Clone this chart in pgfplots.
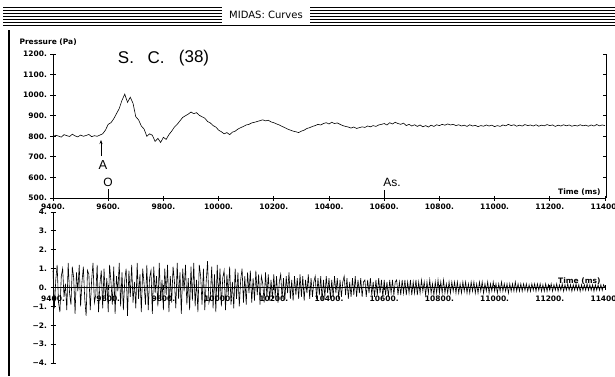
\documentclass[border=0pt]{standalone}
\usepackage{pgfplots}
\pgfplotsset{compat=1.18}
\usepackage{fontspec}
\usetikzlibrary{arrows.meta}
\setmainfont{DejaVu Sans}
\newfontfamily\pixfont{DejaVu Sans}
\newfontfamily\handfont{Liberation Sans}
\newcommand\tickfont{\pixfont\bfseries\fontsize{7.5}{8}\selectfont}
\begin{document}
\begin{tikzpicture}
\useasboundingbox (0pt,0pt) rectangle (615pt,376pt);
\begin{scope}[x=1pt,y=1pt]
% window title bar
\foreach \yy in {7,10,13,16,19,22} {
  \draw[line width=0.7pt] (3,376-\yy) -- (222,376-\yy);
  \draw[line width=0.7pt] (310,376-\yy) -- (615,376-\yy);
}
\draw[line width=0.8pt] (3,376-25) -- (615,376-25);
\node[font=\pixfont\fontsize{10}{12}\selectfont] at (266,376-15) {MIDAS: Curves};
\draw[line width=1.2pt] (9,376-30) -- (9,0);
\node[anchor=west,font=\tickfont] at (16,376-42) {Pressure (Pa)};
% right frame line with ticks
\draw[line width=1pt] (606.5,178) -- (606.5,322);
\foreach \k in {1,...,7} { \draw[line width=0.8pt] (606.5,178+\k*20.57) -- (602.5,178+\k*20.57); }
\node[anchor=east,font=\tickfont] at (604,376-192) {Time (ms)};
\node[anchor=east,font=\tickfont] at (604,376-281) {Time (ms)};
% annotations
\node[font=\handfont\fontsize{17}{18}\selectfont] at (126,376-58) {S.};
\node[font=\handfont\fontsize{17}{18}\selectfont] at (156,376-58) {C.};
\node[font=\handfont\fontsize{17}{18}\selectfont] at (194,376-58) {(38)};
\draw[-{Stealth[length=4pt]}, line width=0.8pt] (101,376-156) -- (101,376-140);
\node[font=\handfont\fontsize{13}{14}\selectfont] at (103,376-165) {A};
\node[font=\handfont\fontsize{12}{13}\selectfont] at (108,376-182) {O};
\draw[line width=0.8pt] (108,376-189) -- (108,376-198);
\node[font=\handfont\fontsize{12}{13}\selectfont] at (392,376-182) {As.};
\draw[line width=0.8pt] (384,376-190) -- (384,376-198);
\end{scope}

% ---------- top plot ----------
\begin{axis}[
  at={(53pt,178pt)}, anchor=south west,
  scale only axis, width=552pt, height=144pt,
  xmin=9400, xmax=11400, ymin=500, ymax=1200,
  axis x line=bottom, axis y line=left,
  x axis line style={-}, y axis line style={-},
  axis line style={line width=0.8pt},
  scaled x ticks=false, scaled y ticks=false,
  xtick={9400,9600,9800,10000,10200,10400,10600,10800,11000,11200,11400},
  xticklabels={9400.,9600.,9800.,10000.,10200.,10400.,10600.,10800.,11000.,11200.,11400.},
  ytick={500,600,700,800,900,1000,1100,1200},
  yticklabels={500.,600.,700.,800.,900.,1000.,1100.,1200.},
  tick align=center, major tick length=5pt,
  tick style={line width=0.8pt, black},
  ticklabel style={font=\tickfont},
  clip=false,
]
\addplot[black, line width=0.6pt] coordinates {
(9400,798) (9410,805) (9420,801) (9430,796) (9440,808) (9450,803) (9460,799) (9470,810) (9480,802) (9490,797)
(9500,806) (9510,800) (9520,804) (9530,809) (9540,798) (9550,803) (9560,800) (9570,806) (9580,812) (9590,830)
(9600,858) (9610,866) (9620,885) (9630,910) (9640,935) (9650,975) (9660,1005) (9670,965) (9680,990) (9690,960)
(9700,895) (9710,880) (9720,850) (9730,835) (9740,800) (9750,812) (9760,805) (9770,775) (9780,790) (9790,770)
(9800,795) (9810,785) (9820,808) (9830,825) (9840,845) (9850,858) (9860,875) (9870,892) (9880,900) (9890,908)
(9900,918) (9910,910) (9920,915) (9930,902) (9940,895) (9950,888) (9960,872) (9970,865) (9980,852) (9990,845)
(10000,830) (10010,822) (10020,812) (10030,818) (10040,808) (10050,820) (10060,825) (10070,835) (10080,842) (10090,848)
(10100,855) (10110,858) (10120,865) (10130,868) (10140,872) (10150,876) (10160,880) (10170,875) (10180,878) (10190,870)
(10200,866) (10210,860) (10220,855) (10230,848) (10240,842) (10250,835) (10260,830) (10270,825) (10280,822) (10290,818)
(10300,825) (10310,830) (10320,838) (10330,842) (10340,848) (10350,852) (10360,858) (10370,855) (10380,862) (10390,866)
(10400,860) (10410,868) (10420,862) (10430,865) (10440,858) (10450,852) (10460,848) (10470,845) (10480,840) (10490,845)
(10500,838) (10510,842) (10520,846) (10530,843) (10540,850) (10550,846) (10560,852) (10570,848) (10580,855) (10590,858)
(10600,862) (10610,855) (10620,866) (10630,860) (10640,868) (10650,862) (10660,858) (10670,864) (10680,852) (10690,858)
(10700,850) (10710,856) (10720,848) (10730,855) (10740,846) (10750,852) (10760,845) (10770,854) (10780,848) (10790,856)
(10800,852) (10810,858) (10820,854) (10830,860) (10840,855) (10850,858) (10860,852) (10870,856) (10880,850) (10890,854)
(10900,848) (10910,856) (10920,850) (10930,853) (10940,847) (10950,852) (10960,849) (10970,855) (10980,850) (10990,854)
(11000,847) (11010,852) (11020,848) (11030,855) (11040,851) (11050,858) (11060,852) (11070,856) (11080,849) (11090,854)
(11100,850) (11110,857) (11120,852) (11130,855) (11140,850) (11150,856) (11160,849) (11170,854) (11180,851) (11190,857)
(11200,852) (11210,855) (11220,848) (11230,854) (11240,850) (11250,856) (11260,851) (11270,855) (11280,849) (11290,853)
(11300,850) (11310,856) (11320,851) (11330,854) (11340,849) (11350,855) (11360,850) (11370,857) (11380,851) (11390,855)
(11400,852)
};
\end{axis}

% ---------- bottom plot ----------
\begin{axis}[
  at={(53pt,13pt)}, anchor=south west,
  scale only axis, width=552pt, height=151pt,
  xmin=9400, xmax=11400, ymin=-4, ymax=4,
  axis x line=middle, axis y line=left,
  x axis line style={-}, y axis line style={-},
  axis line style={line width=0.8pt},
  scaled x ticks=false, scaled y ticks=false,
  hide obscured x ticks=false, hide obscured y ticks=false,
  xtick={9400,9600,9800,10000,10200,10400,10600,10800,11000,11200,11400},
  xticklabels={9400.,9600.,9800.,10000.,10200.,10400.,10600.,10800.,11000.,11200.,11400.},
  ytick={-4,-3,-2,-1,0,1,2,3,4},
  yticklabels={−4.,−3.,−2.,−1.,0.,1.,2.,3.,4.},
  tick align=center, major tick length=5pt,
  tick style={line width=0.8pt, black},
  ticklabel style={font=\tickfont},
  xticklabel style={yshift=-2pt},
  clip=false,
]
\addplot[black, line width=0.6pt] table[row sep=\\, header=false, x expr={9400+5*\coordindex}, y index=0] {
0.9\\ -1.1\\ 0.4\\ 1.2\\ -0.8\\ -1.3\\ 0.6\\ 1.0\\ -0.5\\ 0.2\\ -1.2\\ 1.3\\ -0.3\\ -0.9\\ 1.1\\ 0.5\\ -1.4\\ 0.8\\ -0.2\\ 1.2\\
-1.0\\ 0.3\\ 1.1\\ -0.6\\ -1.5\\ 0.9\\ 0.7\\ -1.2\\ 0.4\\ 1.3\\ -0.8\\ -0.4\\ 1.2\\ -1.3\\ 0.2\\ 0.9\\ -1.1\\ 1.0\\ -0.7\\ 0.5\\
-1.3\\ 1.2\\ 0.3\\ -0.9\\ 1.1\\ -1.4\\ 0.6\\ -0.2\\ 1.3\\ -1.0\\ 0.8\\ -1.2\\ 0.4\\ 1.0\\ -1.5\\ 0.9\\ -0.5\\ 1.2\\ -0.8\\ 0.3\\
-1.1\\ 1.3\\ -0.6\\ 0.7\\ -1.3\\ 1.0\\ 0.2\\ -0.9\\ 1.2\\ -1.2\\ 0.5\\ 0.9\\ -1.4\\ 1.1\\ -0.3\\ 0.6\\ -1.0\\ 1.3\\ -0.7\\ 0.4\\
-1.2\\ 1.0\\ -0.4\\ 1.2\\ -1.3\\ 0.6\\ -0.8\\ 1.1\\ 0.3\\ -1.1\\ 1.3\\ -0.6\\ 0.8\\ -1.4\\ 1.0\\ -0.2\\ 1.2\\ -0.9\\ 0.5\\ -1.2\\
1.1\\ -0.7\\ 1.3\\ -1.0\\ 0.4\\ -1.3\\ 1.2\\ 0.6\\ -0.9\\ 1.0\\ -1.2\\ 0.3\\ 1.4\\ -0.8\\ -0.5\\ 1.1\\ -1.1\\ 0.7\\ -1.3\\ 1.2\\
-0.6\\ 1.0\\ -1.0\\ 0.5\\ 0.9\\ -1.2\\ 0.7\\ -0.4\\ 1.1\\ -0.9\\ 0.3\\ -1.1\\ 1.0\\ -0.6\\ 0.8\\ -1.0\\ 0.4\\ 1.0\\ -0.8\\ 0.6\\
-0.9\\ 0.8\\ -0.3\\ 0.9\\ -0.8\\ 0.5\\ -0.7\\ 0.9\\ -0.4\\ 0.7\\ -0.9\\ 0.6\\ 0.2\\ -0.8\\ 0.8\\ -0.5\\ 0.7\\ -0.7\\ 0.4\\ -0.6\\
0.7\\ -0.5\\ 0.6\\ -0.8\\ 0.3\\ 0.7\\ -0.6\\ 0.5\\ -0.7\\ 0.6\\ -0.3\\ 0.8\\ -0.6\\ 0.4\\ -0.7\\ 0.6\\ -0.4\\ 0.5\\ -0.6\\ 0.7\\
-0.5\\ 0.6\\ -0.7\\ 0.4\\ -0.3\\ 0.7\\ -0.6\\ 0.5\\ -0.5\\ 0.3\\ 0.6\\ -0.6\\ 0.5\\ -0.4\\ 0.6\\ -0.7\\ 0.4\\ -0.5\\ 0.6\\ -0.3\\
0.5\\ -0.6\\ 0.4\\ -0.5\\ 0.6\\ -0.3\\ 0.5\\ -0.6\\ 0.4\\ -0.5\\ 0.3\\ 0.6\\ -0.4\\ 0.5\\ -0.6\\ 0.3\\ -0.5\\ 0.5\\ -0.4\\ 0.6\\
-0.5\\ 0.4\\ -0.3\\ 0.5\\ -0.5\\ 0.3\\ 0.4\\ -0.5\\ 0.4\\ -0.3\\ 0.5\\ -0.4\\ 0.3\\ -0.5\\ 0.4\\ -0.4\\ 0.5\\ -0.3\\ 0.4\\ -0.5\\
0.4\\ -0.4\\ 0.3\\ -0.5\\ 0.4\\ -0.3\\ 0.4\\ -0.4\\ 0.3\\ 0.4\\ -0.4\\ 0.3\\ -0.4\\ 0.4\\ -0.3\\ 0.4\\ -0.4\\ 0.3\\ -0.3\\ 0.4\\
-0.4\\ 0.3\\ -0.3\\ 0.4\\ -0.4\\ 0.3\\ -0.3\\ 0.4\\ -0.2\\ 0.3\\ -0.4\\ 0.3\\ -0.3\\ 0.4\\ -0.3\\ 0.2\\ -0.4\\ 0.3\\ -0.3\\ 0.4\\
-0.3\\ 0.3\\ -0.3\\ 0.4\\ -0.3\\ 0.2\\ -0.3\\ 0.3\\ -0.3\\ 0.3\\ -0.2\\ 0.3\\ -0.3\\ 0.3\\ -0.3\\ 0.2\\ -0.3\\ 0.3\\ -0.2\\ 0.3\\
-0.3\\ 0.2\\ -0.3\\ 0.3\\ -0.2\\ 0.3\\ -0.3\\ 0.2\\ -0.3\\ 0.3\\ -0.2\\ 0.3\\ -0.3\\ 0.2\\ -0.2\\ 0.3\\ -0.3\\ 0.2\\ -0.2\\ 0.3\\
-0.2\\ 0.2\\ -0.3\\ 0.2\\ -0.2\\ 0.3\\ -0.2\\ 0.2\\ -0.2\\ 0.2\\ -0.3\\ 0.2\\ -0.2\\ 0.2\\ -0.2\\ 0.3\\ -0.2\\ 0.2\\ -0.2\\ 0.2\\
-0.2\\ 0.2\\ -0.15\\ 0.2\\ -0.2\\ 0.15\\ -0.2\\ 0.2\\ -0.15\\ 0.2\\ -0.2\\ 0.2\\ -0.15\\ 0.2\\ -0.2\\ 0.15\\ -0.2\\ 0.2\\ -0.2\\ 0.15\\
-0.15\\ 0.2\\ -0.2\\ 0.15\\ -0.15\\ 0.2\\ -0.2\\ 0.15\\ -0.15\\ 0.2\\ -0.2\\ 0.15\\ -0.15\\ 0.2\\ -0.15\\ 0.15\\ -0.2\\ 0.15\\ -0.15\\ 0.2\\
-0.15\\ 0.15\\ -0.2\\ 0.15\\ -0.15\\ 0.15\\ -0.15\\ 0.2\\ -0.15\\ 0.15\\ -0.15\\ 0.15\\ -0.2\\ 0.15\\ -0.15\\ 0.15\\ -0.15\\ 0.15\\ -0.15\\ 0.15\\
0.0\\
};
\end{axis}
\end{tikzpicture}
\end{document}
